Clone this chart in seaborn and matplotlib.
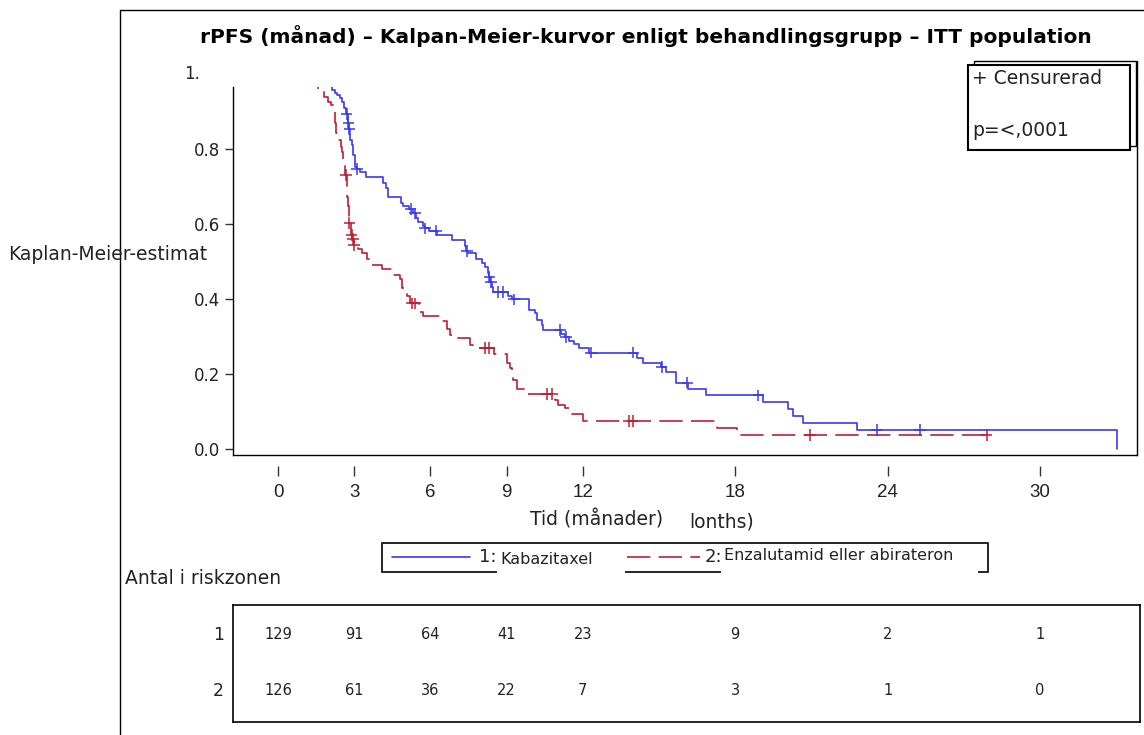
import numpy as np
import pandas as pd
import matplotlib
matplotlib.use('Agg')
import matplotlib.pyplot as plt
from matplotlib.lines import Line2D
from matplotlib.patches import Rectangle
import seaborn as sns

sns.set_style('white')
plt.rcParams['font.family'] = ['DejaVu Sans']

# Kabazitaxel (group 1): event times (months) and survival after each step
kab_time = [0, 2.11, 2.24, 2.34, 2.44, 2.53, 2.61, 2.66, 2.74, 2.79, 2.83, 2.93, 2.97, 3.03, 3.10,
            3.23, 3.45, 4.15, 4.24, 4.34, 4.83, 4.91, 5.16, 5.30, 5.45, 5.52, 5.70, 5.78, 5.95,
            6.27, 6.85, 7.36, 7.40, 7.49, 7.79, 8.05, 8.15, 8.25, 8.30, 8.36, 8.44, 8.48, 9.07,
            9.20, 9.87, 10.12, 10.18, 10.38, 10.45, 11.15, 11.28, 11.45, 11.65, 11.87, 12.25,
            14.12, 14.38, 15.06, 15.28, 15.66, 16.15, 16.87, 19.08, 20.09, 20.26, 20.66, 22.81,
            33.02]
kab_surv = [1.0, 0.957, 0.949, 0.944, 0.935, 0.926, 0.909, 0.893, 0.869, 0.853, 0.824, 0.811, 0.784,
            0.753, 0.746, 0.739, 0.726, 0.709, 0.695, 0.673, 0.655, 0.648, 0.639, 0.628, 0.617,
            0.606, 0.595, 0.588, 0.582, 0.571, 0.556, 0.540, 0.528, 0.523, 0.506, 0.495, 0.486,
            0.468, 0.458, 0.446, 0.432, 0.419, 0.408, 0.399, 0.371, 0.362, 0.344, 0.331, 0.317,
            0.307, 0.298, 0.289, 0.280, 0.269, 0.257, 0.242, 0.229, 0.218, 0.206, 0.177, 0.159,
            0.143, 0.124, 0.106, 0.088, 0.070, 0.051, 0.0]
kab_cens = [2.70, 2.77, 2.81, 3.12, 5.22, 5.39, 5.79, 6.22, 7.43, 8.32, 8.39, 8.67, 8.85, 9.30,
            11.10, 11.34, 12.32, 13.99, 15.10, 16.12, 18.91, 23.57, 25.28]

# Enzalutamid eller abirateron (group 2)
enz_time = [0, 1.59, 1.80, 1.95, 2.08, 2.20, 2.24, 2.28, 2.40, 2.47, 2.52, 2.57, 2.62, 2.65, 2.72,
            2.76, 2.80, 2.87, 2.93, 2.98, 3.16, 3.29, 3.49, 3.69, 4.08, 4.48, 4.54, 4.80, 4.87,
            5.07, 5.20, 5.56, 5.72, 6.38, 6.64, 6.77, 6.97, 7.56, 7.82, 8.50, 9.00, 9.15, 9.22,
            9.26, 9.40, 9.82, 10.91, 11.04, 11.30, 11.50, 12.02, 17.27, 18.06, 27.9]
enz_surv = [1.0, 0.957, 0.939, 0.926, 0.917, 0.899, 0.869, 0.842, 0.824, 0.806, 0.793, 0.771, 0.753,
            0.731, 0.673, 0.648, 0.602, 0.571, 0.560, 0.544, 0.533, 0.522, 0.506, 0.491, 0.479,
            0.470, 0.464, 0.452, 0.428, 0.408, 0.388, 0.366, 0.355, 0.342, 0.319, 0.304, 0.295,
            0.277, 0.270, 0.253, 0.228, 0.215, 0.200, 0.184, 0.160, 0.146, 0.131, 0.117, 0.108,
            0.093, 0.075, 0.055, 0.037, 0.037]
enz_cens = [2.67, 2.81, 2.90, 2.96, 2.99, 5.26, 5.40, 8.15, 8.30, 10.58, 10.80, 13.83, 13.96,
            20.94, 27.9]

risk_times = [0, 3, 6, 9, 12, 18, 24, 30]
risk_kab = [129, 91, 64, 41, 23, 9, 2, 1]
risk_enz = [126, 61, 36, 22, 7, 3, 1, 0]

groups = ['1: Kabazitaxel', '2: Enzalutamid eller abirateron']
colors = ['#3a3af0', '#bd1f32']


def step_at(times, surv, t):
    i = np.searchsorted(times, t, side='right') - 1
    return surv[i]


curves = pd.concat([
    pd.DataFrame({'t': kab_time, 's': kab_surv, 'g': groups[0]}),
    pd.DataFrame({'t': enz_time, 's': enz_surv, 'g': groups[1]}),
])
cens = pd.concat([
    pd.DataFrame({'t': kab_cens, 's': [step_at(kab_time, kab_surv, c) for c in kab_cens], 'g': groups[0]}),
    pd.DataFrame({'t': enz_cens, 's': [step_at(enz_time, enz_surv, c) for c in enz_cens], 'g': groups[1]}),
])

W, H = 1144, 735


def fx(px):
    return px / W


def fy(py):
    return 1 - py / H


narrow = 'Liberation Sans'
dash = (14, 5)

fig = plt.figure(figsize=(W / 100, H / 100), dpi=100)
ax = fig.add_axes([fx(233), fy(455), fx(1137) - fx(233), fy(87) - fy(455)])

for g, c, d in zip(groups, colors, [None, dash]):
    sub = curves[curves['g'] == g]
    sns.lineplot(data=sub, x='t', y='s', color=c, lw=1.2, drawstyle='steps-post',
                 estimator=None, sort=False, ax=ax, legend=False)
    if d is not None:
        ax.lines[-1].set_dashes(d)
sns.scatterplot(data=cens, x='t', y='s', hue='g', palette=dict(zip(groups, colors)),
                marker='+', s=70, linewidth=1.1, ax=ax, legend=False, zorder=3)

ax.set_xlim((233 - 278) / 25.4, (1137 - 278) / 25.4)
ax.set_ylim(-0.016, 0.965)
ax.set_xticks(risk_times, [str(t) for t in risk_times])
ax.set_yticks([0, 0.2, 0.4, 0.6, 0.8], ['0.0', '0.2', '0.4', '0.6', '0.8'])
ax.text(-0.036, 1.0, '1.', transform=ax.get_yaxis_transform(), ha='right', va='center',
        fontsize=12, color='#222222', clip_on=False)
ax.set_xlabel('')
ax.set_ylabel('')
for side in ['left', 'right']:
    ax.spines[side].set_color('black')
    ax.spines[side].set_linewidth(1)
ax.spines['top'].set_visible(False)
ax.spines['bottom'].set_position(('outward', 8))
ax.spines['bottom'].set_visible(False)
ax.plot([0, 1], [0, 0], transform=ax.transAxes, color='black', lw=1, clip_on=False)
ax.tick_params(axis='y', direction='out', length=6, width=1, color='#333333', left=True, pad=3,
               labelsize=12, labelcolor='#222222')
ax.tick_params(axis='x', direction='out', length=7, width=1, color='#333333', bottom=True, pad=6,
               labelsize=13.5, labelcolor='#222222', labelfontfamily=narrow)

# outer frame
fig.add_artist(Line2D([fx(120), fx(120)], [fy(10), 0], color='black', lw=1))
fig.add_artist(Line2D([fx(120), 1], [fy(10), fy(10)], color='black', lw=1))
fig.add_artist(Line2D([fx(1137), fx(1137)], [fy(87), fy(61)], color='black', lw=1))

fig.text(fx(646), fy(36), 'rPFS (månad) – Kalpan-Meier-kurvor enligt behandlingsgrupp – ITT population',
         ha='center', va='center', fontsize=14.5, fontweight='bold', color='black')
fig.text(fx(8), fy(255), 'Kaplan-Meier-estimat', ha='left', va='center', fontsize=13.5, color='#222222')
fig.text(fx(530), fy(520), 'Tid (månader)', ha='left', va='center', fontsize=13.5, color='#222222')
fig.text(fx(689), fy(522), 'lonths)', ha='left', va='center', fontsize=13.5, color='#222222')

# censor / p-value box
fig.add_artist(Rectangle((fx(974), fy(146)), fx(1136) - fx(974), fy(61) - fy(146),
                         facecolor='white', edgecolor='black', lw=1))
fig.add_artist(Rectangle((fx(968), fy(150)), fx(1130) - fx(968), fy(65) - fy(150),
                         facecolor='white', edgecolor='black', lw=1.5))
fig.text(fx(972), fy(79), '+ Censurerad', ha='left', va='center', fontsize=13.5, color='#222222')
fig.text(fx(972), fy(131), 'p=<,0001', ha='left', va='center', fontsize=13.5, color='#222222')

# legend
fig.add_artist(Rectangle((fx(382), fy(572)), fx(988) - fx(382), fy(543) - fy(572),
                         facecolor='white', edgecolor='black', lw=1.2))
fig.add_artist(Line2D([fx(392), fx(470)], [fy(557), fy(557)], color=colors[0], lw=1.2))
fig.add_artist(Line2D([fx(627), fx(700)], [fy(557), fy(557)], color=colors[1], lw=1.2,
                      dashes=dash))
fig.add_artist(Rectangle((fx(497), fy(575)), fx(625) - fx(497), fy(548) - fy(575),
                         facecolor='white', edgecolor='none'))
fig.add_artist(Rectangle((fx(721), fy(575)), fx(978) - fx(721), fy(548) - fy(575),
                         facecolor='white', edgecolor='none'))
fig.text(fx(479), fy(557), '1:', ha='left', va='center', fontsize=13, color='#222222')
fig.text(fx(500), fy(559), 'Kabazitaxel', ha='left', va='center', fontsize=11.5, color='#222222')
fig.text(fx(705), fy(557), '2:', ha='left', va='center', fontsize=13, color='#222222')
fig.text(fx(724), fy(556), 'Enzalutamid eller abirateron', ha='left', va='center', fontsize=11.5,
         color='#222222')

fig.text(fx(125), fy(578), 'Antal i riskzonen', ha='left', va='center', fontsize=13.5, color='#222222')

# number at risk table
ax2 = fig.add_axes([fx(233), fy(722), fx(1140) - fx(233), fy(605) - fy(722)])
ax2.set_xlim((233 - 278) / 25.4, (1140 - 278) / 25.4)
ax2.set_ylim(0, 1)
ax2.set_xticks([])
ax2.set_yticks([])
for sp in ax2.spines.values():
    sp.set_visible(True)
    sp.set_color('black')
    sp.set_linewidth(1.2)
for row_y, label, counts in [(0.745, '1', risk_kab), (0.265, '2', risk_enz)]:
    for t, n in zip(risk_times, counts):
        ax2.text(t, row_y, str(n), ha='center', va='center', fontsize=10.5, color='#222222')
    ax2.text(-0.01, row_y, label, transform=ax2.get_yaxis_transform(), ha='right', va='center',
             fontsize=12.5, color='#222222')

fig.savefig('out.png', dpi=100)
